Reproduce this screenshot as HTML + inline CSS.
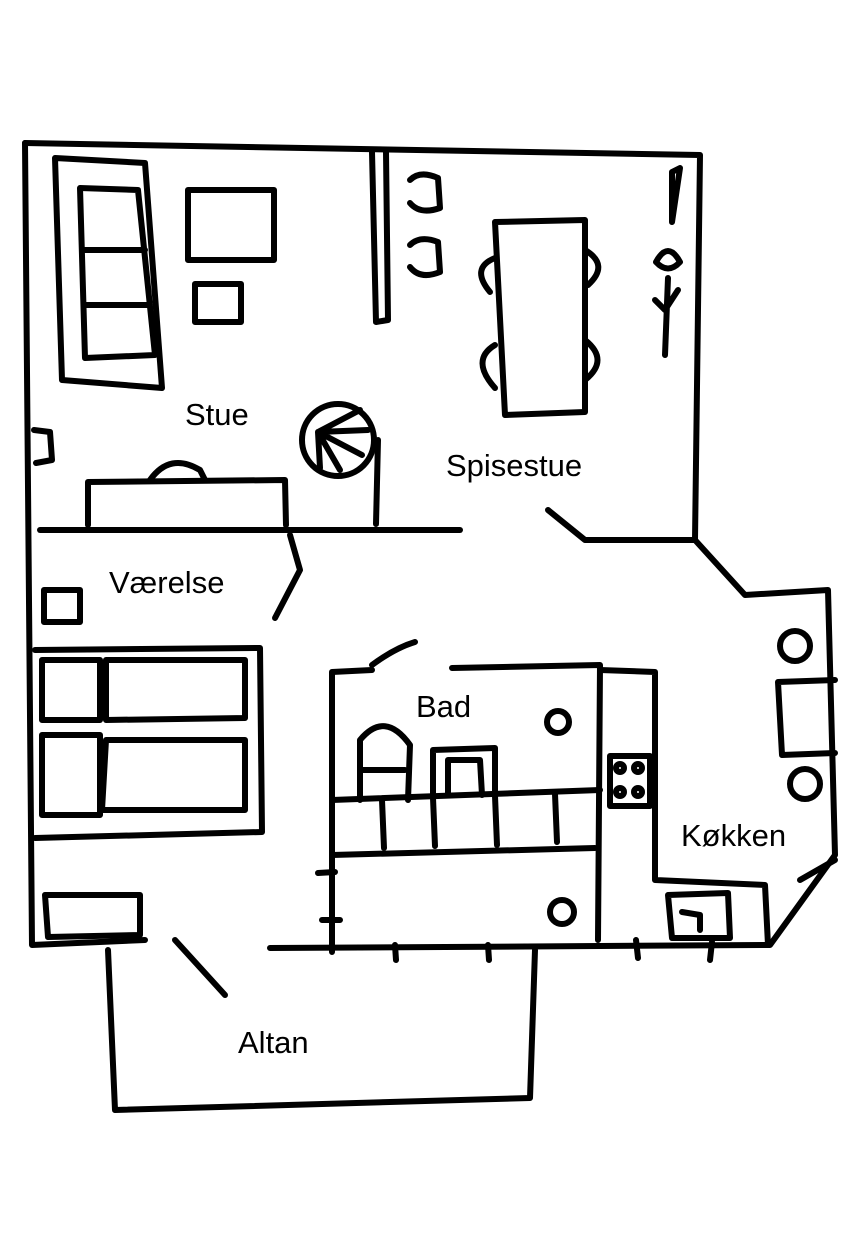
<!DOCTYPE html>
<html><head><meta charset="utf-8"><style>
html,body{margin:0;padding:0;background:#fff;width:860px;height:1240px;overflow:hidden}
svg{display:block}
text{font-family:"Liberation Sans",sans-serif;font-size:31px;fill:#000}
</style></head><body>
<svg width="860" height="1240" viewBox="0 0 860 1240" xmlns="http://www.w3.org/2000/svg">
<g fill="none" stroke="#000" stroke-width="6" stroke-linecap="round" stroke-linejoin="round">
<path d="M25,143 L700,155 L695,540 L585,540 L548,510"/>
<path d="M25,143 L32,945 L145,940"/>
<path d="M695,540 L745,595 L828,590 L835,855 L770,945 L270,948"/>
<path d="M108,950 L115,1110 L530,1098 L535,950"/>
<path d="M175,940 L225,995"/>
<path d="M40,530 L460,530"/>
<path d="M372,152 L376,322 L388,320 L386,152"/>
<path d="M378,440 L376,524"/>
<path d="M290,535 L300,570 L275,618"/>
<path d="M332,952 L332,672 L372,670 M372,665 Q395,648 415,642"/>
<path d="M452,668 L600,665 L598,940"/>
<path d="M332,800 L600,790 M332,855 L595,848"/>
<path d="M382,800 L384,848 M433,798 L435,846 M495,796 L497,845 M555,794 L557,842"/>
<path d="M318,873 L335,872 M322,920 L340,920"/>
<path d="M600,670 L655,672 L655,880 L765,885 L768,945"/>
<path d="M395,945 L396,960 M488,945 L489,960 M636,940 L638,958 M712,942 L710,960"/>
<path d="M800,880 L835,860"/>
<path d="M55,158 L145,163 L162,388 L62,380 Z"/>
<path d="M80,188 L138,190 L155,355 L85,358 Z M84,250 L145,250 M86,305 L150,305"/>
<rect x="188" y="190" width="86" height="70"/>
<rect x="195" y="284" width="46" height="38"/>
<path d="M34,430 L50,432 L52,460 L36,463"/>
<path d="M88,525 L88,482 L285,480 L286,525"/>
<path d="M150,480 Q170,452 200,470 L205,480"/>
<circle cx="338" cy="440" r="36"/>
<path d="M318,432 L360,410 M318,432 L368,430 M318,432 L362,455 M318,432 L340,470 M318,432 L320,468"/>
<path d="M410,180 Q420,170 438,178 L440,208 Q420,215 410,203"/>
<path d="M410,245 Q420,235 438,242 L440,272 Q420,280 410,267"/>
<path d="M495,222 L585,220 L585,412 L505,415 Z"/>
<path d="M495,258 Q470,268 490,292 M495,345 Q470,360 495,388"/>
<path d="M585,250 Q610,265 588,285 M585,340 Q610,360 585,380"/>
<path d="M672,172 L680,168 L672,222 Z"/>
<path d="M656,262 Q668,240 680,262 Q668,275 656,262"/>
<path d="M668,278 L665,355 M655,300 L665,310 L678,290"/>
<rect x="44" y="590" width="36" height="32"/>
<path d="M35,650 L260,648 L262,832 L35,838"/>
<rect x="42" y="660" width="58" height="60"/>
<rect x="42" y="735" width="58" height="80"/>
<path d="M106,660 L245,660 L245,718 L106,720 Z M106,740 L245,740 L245,810 L102,810 Z"/>
<path d="M45,895 L140,895 L140,935 L48,937 Z"/>
<path d="M360,800 L360,740 Q385,710 410,745 L408,800"/>
<path d="M360,770 L405,770"/>
<path d="M433,795 L433,750 L495,748 L495,795"/>
<path d="M448,795 L448,760 L480,760 L482,795"/>
<circle cx="558" cy="722" r="11"/>
<circle cx="562" cy="912" r="12"/>
<rect x="610" y="756" width="40" height="50"/>
<circle cx="620" cy="768" r="4"/><circle cx="638" cy="768" r="4"/>
<circle cx="620" cy="792" r="4"/><circle cx="638" cy="792" r="4"/>
<path d="M668,895 L728,893 L730,938 L672,938 Z M682,912 L700,915 L700,930"/>
<circle cx="795" cy="646" r="15"/>
<circle cx="805" cy="784" r="15"/>
<path d="M835,680 L778,682 L782,755 L835,753"/>
</g>
<text x="185" y="425">Stue</text>
<text x="446" y="476">Spisestue</text>
<text x="109" y="593">Værelse</text>
<text x="416" y="717">Bad</text>
<text x="681" y="846">Køkken</text>
<text x="238" y="1053">Altan</text>
</svg>
</body></html>
